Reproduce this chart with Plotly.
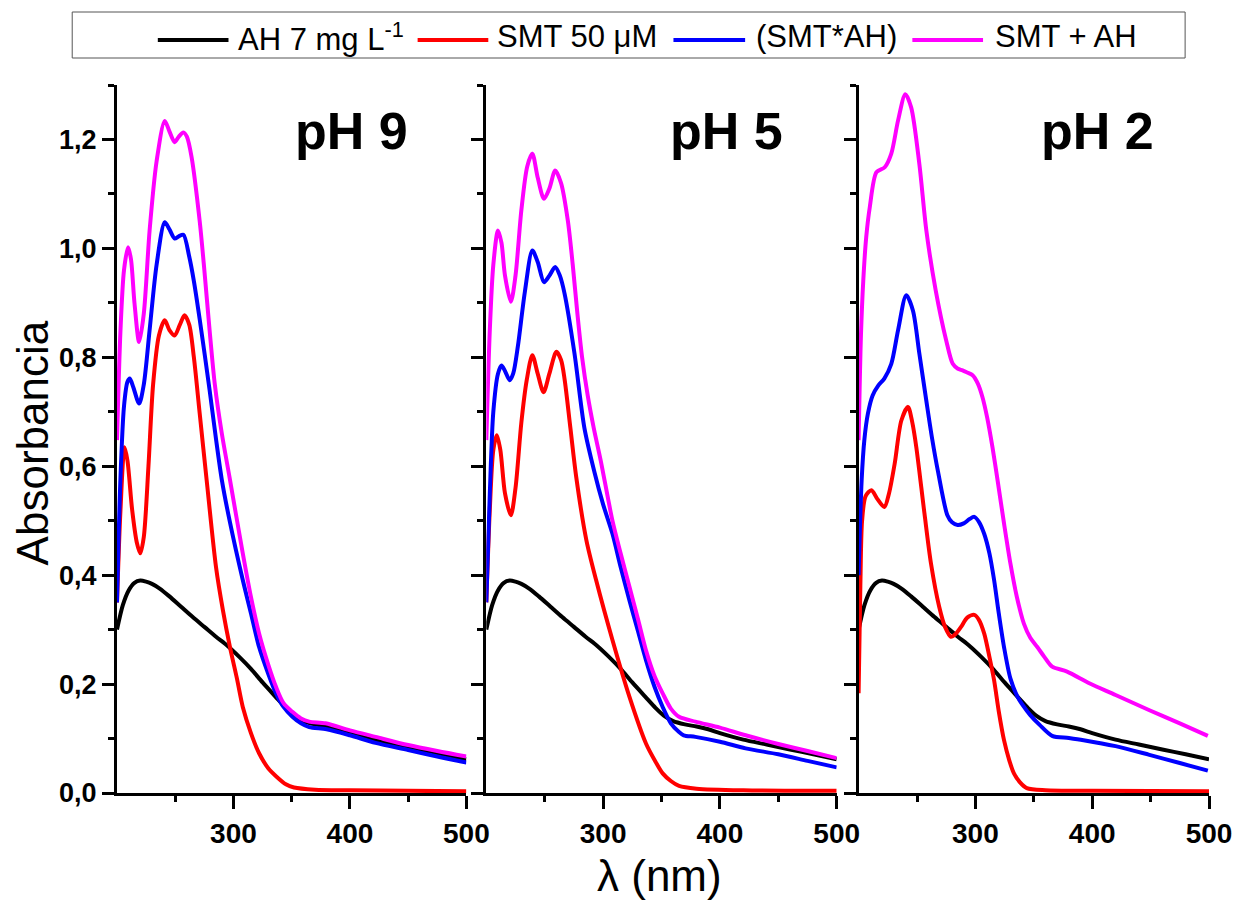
import plotly.graph_objects as go

# ---------------- data ----------------
AH_WL = [200, 205, 210, 215, 220, 225, 230, 237, 245, 255, 265, 275, 285, 295, 305, 315,
         325, 336, 345, 352, 360, 370, 380, 390, 400, 420, 440, 460, 480, 500]
AH_ABS = [0.30, 0.345, 0.372, 0.386, 0.390, 0.388, 0.384, 0.375, 0.361, 0.342, 0.323, 0.305,
          0.287, 0.270, 0.250, 0.228, 0.203, 0.177, 0.156, 0.142, 0.132, 0.126, 0.122, 0.117,
          0.110, 0.098, 0.089, 0.080, 0.071, 0.062]

# pH 9
SMT9_WL = [200, 203, 206.5, 209, 213, 217, 220, 223, 227, 231, 236, 241, 245, 249.5, 254, 258,
           262, 266, 271, 277, 285, 291, 297, 303, 308, 315, 322, 330, 337, 345, 352, 370, 400,
           450, 500]
SMT9_ABS = [0.35, 0.52, 0.635, 0.61, 0.52, 0.46, 0.44, 0.47, 0.60, 0.75, 0.84, 0.868, 0.85,
            0.84, 0.86, 0.877, 0.86, 0.80, 0.697, 0.574, 0.415, 0.335, 0.268, 0.21, 0.158,
            0.11, 0.073, 0.045, 0.03, 0.016, 0.01, 0.006, 0.005, 0.004, 0.003]
CPX9_WL = [200, 203, 206, 209, 211, 214, 219, 223, 228, 234, 241, 245, 249.5, 253, 257, 262,
           266, 271, 279.5, 285, 290, 296.6, 308, 315, 322, 330, 336.5, 343, 350.6, 358, 365,
           380, 400, 422, 450, 475, 500]
CPX9_ABS = [0.35, 0.58, 0.71, 0.755, 0.761, 0.745, 0.715, 0.75, 0.85, 0.97, 1.048, 1.035,
            1.018, 1.022, 1.025, 0.985, 0.94, 0.87, 0.74, 0.65, 0.575, 0.501, 0.391, 0.33,
            0.268, 0.218, 0.183, 0.158, 0.14, 0.128, 0.121, 0.117, 0.106, 0.092, 0.079, 0.067,
            0.056]
MIX9_WL = [200, 203, 206, 209.5, 212, 215, 219, 223, 228, 234, 241, 245, 249.5, 253, 257, 260,
           264, 271, 275, 279.5, 284, 290, 296.6, 308, 315, 322, 330, 336.5, 343, 350.6, 358,
           365, 379, 400, 422, 450, 475, 500]
MIX9_ABS = [0.648, 0.85, 0.96, 1.002, 0.98, 0.90, 0.828, 0.88, 1.033, 1.16, 1.234, 1.215, 1.195,
            1.205, 1.213, 1.205, 1.168, 1.05, 0.96, 0.85, 0.75, 0.66, 0.58, 0.44, 0.36, 0.293,
            0.235, 0.195, 0.165, 0.149, 0.137, 0.131, 0.128, 0.115, 0.103, 0.088, 0.077, 0.067]

# pH 5
SMT5_WL = [200, 203, 206, 209, 212, 216, 221, 225, 230, 234.6, 239.4, 244, 249, 254, 260, 264,
           267, 272, 277, 285.7, 294, 308, 322.5, 336.7, 345, 351, 358, 365, 380, 420, 500]
SMT5_ABS = [0.35, 0.52, 0.63, 0.657, 0.63, 0.55, 0.51, 0.56, 0.68, 0.758, 0.804, 0.77, 0.736,
            0.77, 0.81, 0.795, 0.76, 0.67, 0.58, 0.464, 0.391, 0.281, 0.177, 0.091, 0.057,
            0.036, 0.022, 0.013, 0.008, 0.005, 0.004]
CPX5_WL = [200, 203, 206, 210, 213, 216, 220, 223, 227, 233, 239.4, 244, 249.4, 254, 259, 263,
           267, 275.5, 284, 292.5, 300, 308, 315, 322.5, 330, 336.7, 344, 351, 358, 365, 369,
           379, 400, 422, 450, 475, 500]
CPX5_ABS = [0.35, 0.55, 0.70, 0.77, 0.785, 0.775, 0.758, 0.77, 0.82, 0.92, 0.996, 0.975, 0.938,
            0.95, 0.966, 0.95, 0.917, 0.807, 0.67, 0.59, 0.53, 0.476, 0.415, 0.354, 0.296,
            0.244, 0.195, 0.158, 0.128, 0.112, 0.106, 0.103, 0.094, 0.082, 0.071, 0.059, 0.047]
MIX5_WL = [200, 203, 206, 210, 213, 216, 221, 225, 230, 235, 239.4, 244, 249.4, 254, 259, 264,
           269.8, 274, 278, 282, 286.8, 292, 298, 308, 315, 322.5, 330, 336.7, 344, 351, 358,
           365, 379, 400, 422, 450, 475, 500]
MIX5_ABS = [0.648, 0.85, 0.97, 1.033, 1.01, 0.95, 0.902, 0.95, 1.07, 1.15, 1.174, 1.13, 1.091,
            1.11, 1.143, 1.12, 1.051, 0.97, 0.88, 0.80, 0.73, 0.67, 0.61, 0.50, 0.44, 0.379,
            0.318, 0.262, 0.215, 0.183, 0.155, 0.14, 0.131, 0.12, 0.106, 0.09, 0.077, 0.064]

# pH 2
SMT2_WL = [200, 201.5, 203, 206, 211, 216, 222, 226, 230.9, 236.6, 242.3, 246, 249.4, 256.4,
           262, 269, 274, 279, 283, 287.7, 293, 299, 303, 307.5, 312, 316, 320, 324.5, 329, 333,
           338, 344, 360, 400, 500]
SMT2_ABS = [0.183, 0.38, 0.50, 0.545, 0.556, 0.54, 0.525, 0.55, 0.605, 0.684, 0.709, 0.68,
            0.635, 0.513, 0.421, 0.342, 0.305, 0.287, 0.292, 0.305, 0.322, 0.327, 0.318, 0.293,
            0.25, 0.207, 0.15, 0.097, 0.06, 0.036, 0.02, 0.009, 0.005, 0.004, 0.003]
CPX2_WL = [200, 202.6, 205, 208, 212, 216.8, 222, 228, 233.8, 240.8, 246.5, 252, 258, 263, 268,
           276, 280, 284.8, 290, 295, 299, 303, 307.5, 312, 316, 320, 324.5, 330, 336, 341, 347,
           355, 365.7, 380, 392.6, 420, 449, 475, 499]
CPX2_ABS = [0.40, 0.574, 0.65, 0.697, 0.73, 0.748, 0.761, 0.788, 0.85, 0.914, 0.886, 0.807,
            0.72, 0.65, 0.59, 0.51, 0.497, 0.492, 0.495, 0.503, 0.507, 0.498, 0.476, 0.44, 0.391,
            0.33, 0.268, 0.21, 0.177, 0.16, 0.143, 0.125, 0.105, 0.101, 0.097, 0.086, 0.07,
            0.055, 0.041]
MIX2_WL = [200, 202, 204, 206.5, 209.6, 215.3, 222.4, 228, 233.8, 240, 245, 252, 258, 266, 275,
           280.6, 285, 289, 293, 297.6, 302, 306, 310, 314.6, 319, 324.5, 330, 335.5, 341.5, 347,
           353, 359, 365.7, 378.5, 398, 420, 449, 475, 499]
MIX2_ABS = [0.648, 0.84, 0.941, 1.02, 1.076, 1.14, 1.149, 1.174, 1.235, 1.283, 1.259, 1.155,
            1.033, 0.923, 0.831, 0.788, 0.779, 0.776, 0.772, 0.767, 0.752, 0.727, 0.69, 0.635,
            0.574, 0.495, 0.421, 0.36, 0.311, 0.285, 0.268, 0.25, 0.232, 0.223, 0.201, 0.18,
            0.152, 0.128, 0.105]

PANEL_LABELS = ["pH 9", "pH 5", "pH 2"]
SERIES_NAMES = ["AH 7 mg L<sup>-1</sup>", "SMT 50 μM", "(SMT*AH)", "SMT + AH"]
COLORS = ["#000000", "#ff0000", "#0000ff", "#ff00ff"]
X_TICKS = [300, 400, 500]
X_MINOR = [250, 350, 450]

panels = [
    [(AH_WL, AH_ABS), (SMT9_WL, SMT9_ABS), (CPX9_WL, CPX9_ABS), (MIX9_WL, MIX9_ABS)],
    [(AH_WL, AH_ABS), (SMT5_WL, SMT5_ABS), (CPX5_WL, CPX5_ABS), (MIX5_WL, MIX5_ABS)],
    [(AH_WL, AH_ABS), (SMT2_WL, SMT2_ABS), (CPX2_WL, CPX2_ABS), (MIX2_WL, MIX2_ABS)],
]

# ---------------- layout geometry ----------------
W, H = 1244, 903
ML, MR, MT, MB = 117, 30, 85, 110
PW, PH = W - ML - MR, H - MT - MB


def px(x):
    return (x - ML) / PW


def py(y):
    return (H - MB - y) / PH


domains = [[px(117), px(468)], [px(488), px(840)], [px(862), px(1214)]]

FONT = "Liberation Sans, Arial, sans-serif"

fig = go.Figure()
for i, series in enumerate(panels):
    xa = "x" if i == 0 else f"x{i+1}"
    ya = "y" if i == 0 else f"y{i+1}"
    for j, (wl, ab) in enumerate(series):
        fig.add_trace(go.Scatter(
            x=wl, y=ab, mode="lines", name=SERIES_NAMES[j],
            line=dict(color=COLORS[j], width=4, shape="spline", smoothing=0.8),
            xaxis=xa, yaxis=ya, showlegend=False))

axis_common = dict(showline=True, linecolor="black", linewidth=3, showgrid=False,
                   zeroline=False, ticks="outside", tickcolor="black", tickwidth=3)

layout = dict(
    width=W, height=H, margin=dict(l=ML, r=MR, t=MT, b=MB),
    plot_bgcolor="white", paper_bgcolor="white", separators=",.",
    font=dict(family=FONT, color="black"),
)
for i in range(3):
    xk = "xaxis" if i == 0 else f"xaxis{i+1}"
    yk = "yaxis" if i == 0 else f"yaxis{i+1}"
    ya = "y" if i == 0 else f"y{i+1}"
    xa = "x" if i == 0 else f"x{i+1}"
    layout[xk] = dict(axis_common, domain=domains[i], anchor=ya, range=[200, 500],
                      tickvals=X_TICKS, ticklen=13,
                      tickfont=dict(size=28, family=FONT, weight="bold"),
                      minor=dict(tickvals=X_MINOR, ticks="outside", ticklen=6,
                                 tickwidth=3, tickcolor="black"))
    layout[yk] = dict(axis_common, domain=[0, 1], anchor=xa, range=[0, 1.3],
                      dtick=0.2, tick0=0, tickformat=".1f", ticklen=12,
                      showticklabels=(i == 0),
                      tickfont=dict(size=27, family=FONT, weight="bold"),
                      minor=dict(dtick=0.1, ticks="outside", ticklen=6,
                                 tickwidth=3, tickcolor="black"))
    if i > 0:
        layout[yk]["matches"] = "y"
fig.update_layout(**layout)

annotations = []
label_cx = [353, 729, 1102]
for i, lab in enumerate(PANEL_LABELS):
    annotations.append(dict(text=lab, xref="paper", yref="paper", x=px(label_cx[i]),
                            y=py(131), xanchor="center", yanchor="middle", showarrow=False,
                            font=dict(size=52, family=FONT, weight="bold", color="black")))
annotations.append(dict(text="Absorbancia", xref="paper", yref="paper", x=px(32), y=py(443),
                        textangle=-90, xanchor="center", yanchor="middle", showarrow=False,
                        font=dict(size=44, family=FONT, color="black")))
annotations.append(dict(text="λ (nm)", xref="paper", yref="paper", x=px(662), y=py(875),
                        xanchor="center", yanchor="middle", showarrow=False,
                        font=dict(size=44, family=FONT, color="black")))

# legend (drawn manually to match the long line samples)
shapes = [dict(type="rect", xref="paper", yref="paper", x0=px(72), x1=px(1190),
               y0=py(58), y1=py(12), line=dict(color="#555555", width=1),
               fillcolor="rgba(0,0,0,0)")]
leg_line_x = [(158, 229), (419, 490), (676, 748), (916, 987)]
leg_text_x = [237, 497, 757, 997]
for j in range(4):
    shapes.append(dict(type="line", xref="paper", yref="paper", x0=px(leg_line_x[j][0]),
                       x1=px(leg_line_x[j][1]), y0=py(40), y1=py(40),
                       line=dict(color=COLORS[j], width=4)))
    annotations.append(dict(text=SERIES_NAMES[j], xref="paper", yref="paper",
                            x=px(leg_text_x[j]), y=py(37), xanchor="left", yanchor="middle",
                            showarrow=False, font=dict(size=31, family=FONT, color="black")))

fig.update_layout(annotations=annotations, shapes=shapes)
fig.write_html("out.html")
